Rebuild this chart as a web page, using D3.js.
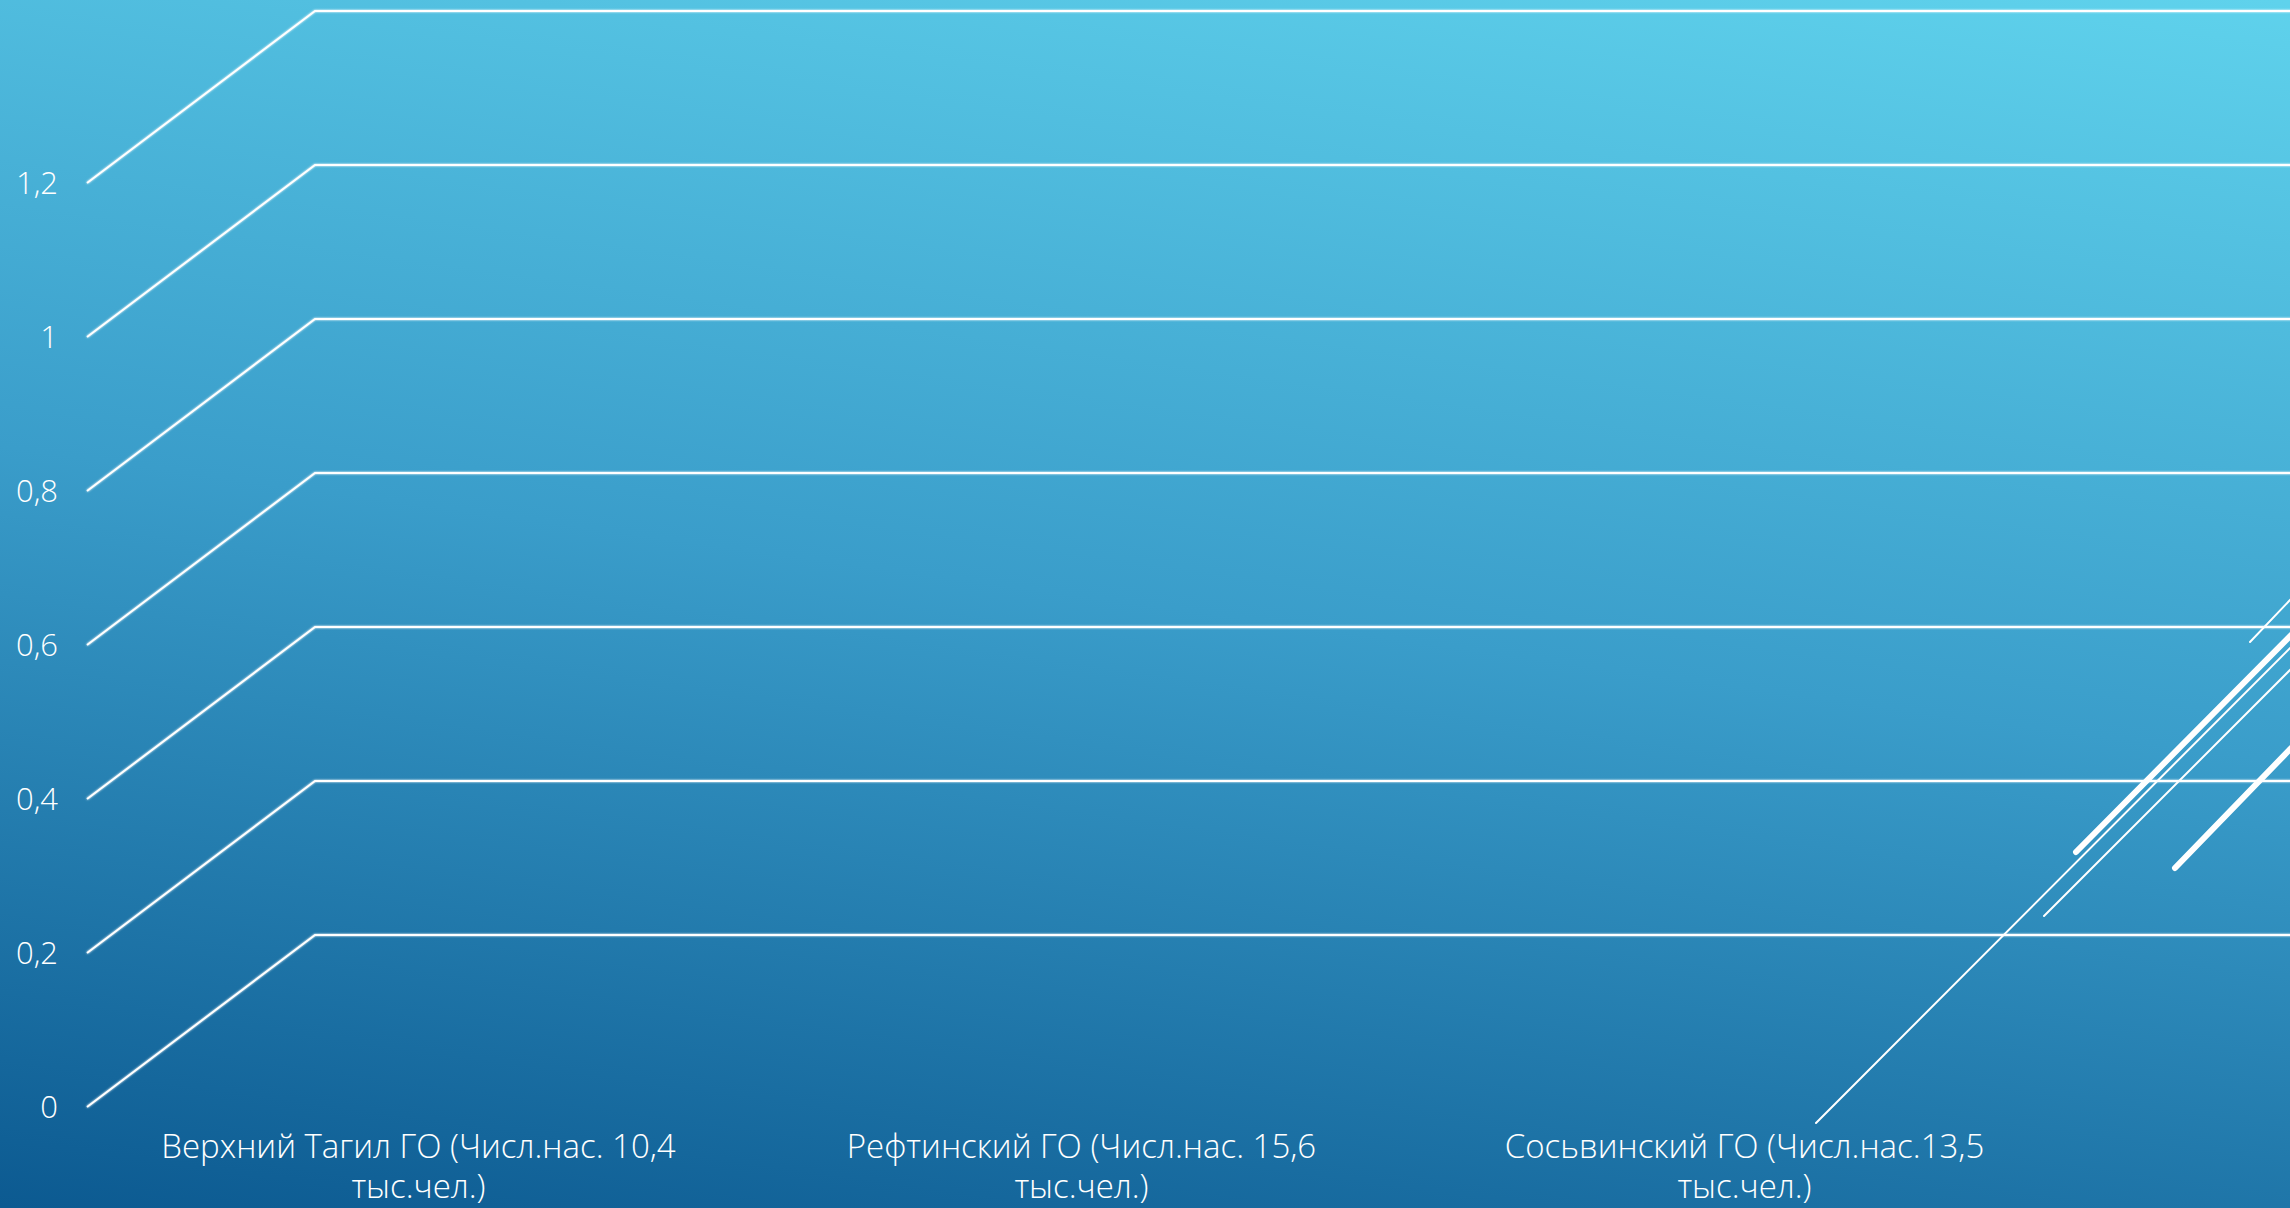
<!DOCTYPE html>
<html>
<head>
<meta charset="utf-8">
<script src="https://cdn.jsdelivr.net/npm/d3@7"></script>
<style>
  html, body { margin: 0; padding: 0; overflow: hidden; background: #2a8abb; }
  svg { display: block; }
  text { font-family: "Century Gothic", "Open Sans", "DejaVu Sans", sans-serif; font-weight: 300; fill: #ffffff; }
</style>
</head>
<body>
<svg id="chart" width="2290" height="1208"></svg>
<script>
// ---- data ----
const categories = [
  "Верхний Тагил ГО (Числ.нас. 10,4 тыс.чел.)",
  "Рефтинский ГО (Числ.нас. 15,6 тыс.чел.)",
  "Сосьвинский ГО (Числ.нас.13,5 тыс.чел.)"
];
const values = [0, 0, 0];
const tickValues = [0, 0.2, 0.4, 0.6, 0.8, 1, 1.2];
const tickLabels = ["0", "0,2", "0,4", "0,6", "0,8", "1", "1,2"];

// ---- layout ----
const W = 2290, H = 1208;
const front = { left: 87, right: 2076, top: 183, bottom: 1107 };
const depth = { dx: 228, dy: -172 };

const svg = d3.select("#chart");
const defs = svg.append("defs");

const bg = defs.append("linearGradient")
  .attr("id", "bg").attr("gradientUnits", "userSpaceOnUse")
  .attr("x1", 1042).attr("y1", 1350).attr("x2", 1248).attr("y2", -142);
bg.append("stop").attr("offset", 0).attr("stop-color", "#0c5a91");
bg.append("stop").attr("offset", 0.5).attr("stop-color", "#3a9dca");
bg.append("stop").attr("offset", 1).attr("stop-color", "#5fd2ec");

const glow = defs.append("filter").attr("id", "glow")
  .attr("x", "-5%").attr("y", "-50%").attr("width", "110%").attr("height", "200%");
glow.append("feGaussianBlur").attr("stdDeviation", 1.2).attr("result", "b");
const fm = glow.append("feMerge");
fm.append("feMergeNode").attr("in", "b");
fm.append("feMergeNode").attr("in", "SourceGraphic");

svg.append("rect").attr("width", W).attr("height", H).attr("fill", "url(#bg)");

// scales
const y = d3.scaleLinear().domain([0, 1.2]).range([front.bottom, front.top]);
const x = d3.scaleBand().domain(categories).range([front.left, front.right]).paddingInner(0.3).paddingOuter(0.15);

// gridlines: left wall diagonal + back wall horizontal
const grid = svg.append("g").attr("filter", "url(#glow)");
grid.selectAll("path.grid")
  .data(tickValues)
  .join("path")
  .attr("class", "grid")
  .attr("fill", "none")
  .attr("stroke", "#ffffff")
  .attr("stroke-width", 2)
  .attr("d", v => {
    const p = d3.path();
    p.moveTo(front.left, y(v));
    p.lineTo(front.left + depth.dx, y(v) + depth.dy);
    p.lineTo(front.right + depth.dx, y(v) + depth.dy);
    return p.toString();
  });

// bars (all zero height)
svg.append("g").selectAll("rect.bar")
  .data(values)
  .join("rect")
  .attr("class", "bar")
  .attr("x", (d, i) => x(categories[i]))
  .attr("width", x.bandwidth())
  .attr("y", d => y(d))
  .attr("height", d => y(0) - y(d))
  .attr("fill", "#ffffff");

// y-axis tick labels
svg.append("g").selectAll("text.tick")
  .data(tickValues)
  .join("text")
  .attr("class", "tick")
  .attr("x", front.left - 29)
  .attr("y", v => y(v))
  .attr("dy", "0.36em")
  .attr("text-anchor", "end")
  .attr("font-size", 31)
  .text((v, i) => tickLabels[i]);

// category labels (two lines)
const xc = d3.scaleBand().domain(categories).range([front.left, front.right]);
const catG = svg.append("g");
categories.forEach(c => {
  const idx = c.lastIndexOf(" ");
  const lines = [c.slice(0, idx), c.slice(idx + 1)];
  lines.forEach((ln, k) => {
    catG.append("text")
      .attr("text-anchor", "middle")
      .attr("font-size", 33)
      .attr("x", xc(c) + xc.bandwidth() / 2)
      .attr("y", 1158 + k * 40)
      .text(ln);
  });
});

// decorative theme streaks (bottom right)
const decor = [
  { x1: 2250, y1: 642, x2: 2330, y2: 558, w: 2 },
  { x1: 2076, y1: 852, x2: 2330, y2: 596, w: 6 },
  { x1: 1816, y1: 1123, x2: 2330, y2: 608, w: 2 },
  { x1: 2044, y1: 916, x2: 2330, y2: 630, w: 2 },
  { x1: 2175, y1: 868, x2: 2330, y2: 708, w: 6 }
];
svg.append("g").selectAll("line")
  .data(decor)
  .join("line")
  .attr("x1", d => d.x1).attr("y1", d => d.y1)
  .attr("x2", d => d.x2).attr("y2", d => d.y2)
  .attr("stroke", "#ffffff")
  .attr("stroke-width", d => d.w)
  .attr("stroke-linecap", "round");
</script>
</body>
</html>
